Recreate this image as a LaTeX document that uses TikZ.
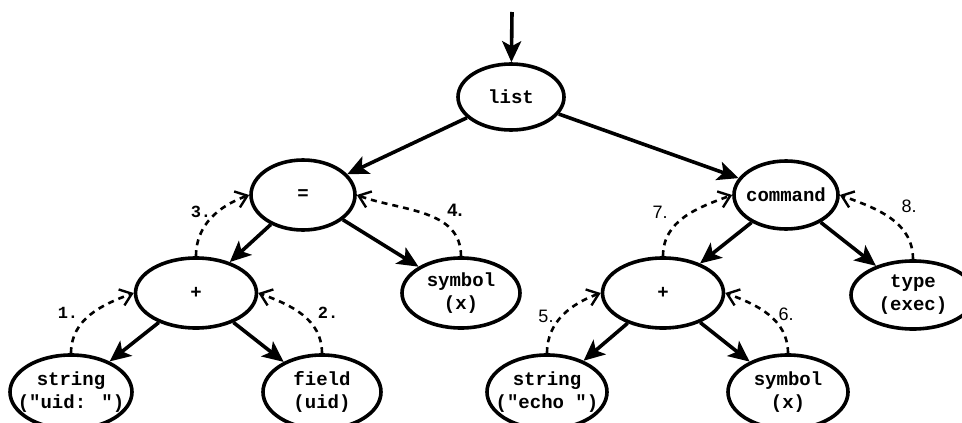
\documentclass[tikz,border=0pt]{standalone}
\usepackage{fontspec}
\setmainfont{Liberation Serif}
\newfontfamily\codefont{Liberation Mono}
\newfontfamily\stepsans{Liberation Sans}
\usetikzlibrary{arrows.meta,shapes.geometric}
\begin{document}
\begin{tikzpicture}[x=1pt,y=-1pt,
  ast/.style n args={2}{ellipse, draw, line width=3.6pt, inner sep=0pt,
      minimum width=#1, minimum height=#2},
  asttext/.style={align=center, inner sep=0pt,
      font=\codefont\bfseries\fontsize{19}{23}\selectfont},
  child/.style={line width=3.6pt, -{Stealth[length=21pt,width=19pt,inset=5pt]}},
  order/.style={line width=2.6pt, dash pattern=on 6pt off 5pt,
      -{Straight Barb[length=11pt,width=17pt,line width=2.4pt]}},
  monostep/.style={inner sep=0pt, font=\codefont\bfseries\fontsize{17}{17}\selectfont},
  sansstep/.style={inner sep=0pt, font=\stepsans\fontsize{18}{18}\selectfont},
  sansbold/.style={inner sep=0pt, font=\stepsans\bfseries\fontsize{18}{18}\selectfont}]

\clip (0,0) rectangle (962,423);

% syntax tree nodes
\node[ast={106pt}{66pt}, label={[asttext]center:list}] (list) at (511,97) {};
\node[ast={104pt}{70pt}, label={[asttext]center:=}] (eq) at (303,195) {};
\node[ast={104pt}{68pt}, label={[asttext]center:command}] (cmd) at (786,195) {};
\node[ast={121pt}{70pt}, label={[asttext]center:+}] (plusL) at (196,293) {};
\node[ast={118pt}{70pt}, label={[asttext]center:{symbol\\(x)}}] (symL) at (461,293) {};
\node[ast={121pt}{70pt}, label={[asttext]center:+}] (plusR) at (663,293) {};
\node[ast={124pt}{68pt}, label={[asttext]center:{type\\(exec)}}] (type) at (913,295) {};
\node[ast={122pt}{74pt}, label={[asttext]center:{string\\("uid: ")}}] (strL) at (71,392) {};
\node[ast={118pt}{74pt}, label={[asttext]center:{field\\(uid)}}] (field) at (322,392) {};
\node[ast={120pt}{74pt}, label={[asttext]center:{string\\("echo ")}}] (strR) at (547,392) {};
\node[ast={120pt}{74pt}, label={[asttext]center:{symbol\\(x)}}] (symR) at (788,392) {};

% entry arrow
\coordinate (entry) at (512,12);
\draw[child] (entry) -- (list);

% parent-to-child edges
\draw[child] (list) -- (eq);
\draw[child] (list) -- (cmd);
\draw[child] (eq) -- (plusL);
\draw[child] (eq) -- (symL);
\draw[child] (cmd) -- (plusR);
\draw[child] (cmd) -- (type);
\draw[child] (plusL) -- (strL);
\draw[child] (plusL) -- (field);
\draw[child] (plusR) -- (strR);
\draw[child] (plusR) -- (symR);

% evaluation order
\draw[order] (strL.north) to[out=90,in=200] (plusL.west);
\draw[order] (field.north) to[out=90,in=-20] (plusL.east);
\draw[order] (plusL.north) to[out=90,in=200] (eq.west);
\draw[order] (symL.north) to[out=90,in=-20] (eq.east);
\draw[order] (strR.north) to[out=90,in=200] (plusR.west);
\draw[order] (symR.north) to[out=90,in=-20] (plusR.east);
\draw[order] (plusR.north) to[out=90,in=200] (cmd.west);
\draw[order] (type.north) to[out=90,in=-20] (cmd.east);

% step numbers
\node[monostep] (s1) at (68,313) {1.};
\node[monostep] (s2) at (328,313) {2.};
\node[monostep] (s3) at (201,212) {3.};
\node[sansbold] (s4) at (455,210) {4.};
\node[sansstep] (s5) at (546,316) {5.};
\node[sansstep] (s6) at (786,314) {6.};
\node[sansstep] (s7) at (660,212) {7.};
\node[sansstep] (s8) at (909,206) {8.};
\end{tikzpicture}
\end{document}
